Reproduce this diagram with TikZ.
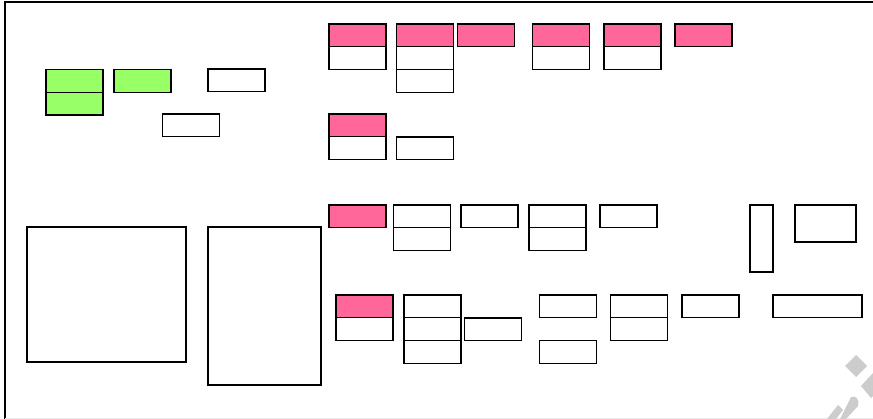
\documentclass[tikz,border=0pt]{standalone}
\usetikzlibrary{positioning}
\definecolor{pinkc}{HTML}{FF6699}
\definecolor{greenc}{HTML}{99FF66}
\definecolor{wmark}{HTML}{CCCCCC}
\tikzset{
  every picture/.style={line width=1.3pt},
  cell/.style={draw,rectangle,minimum width=57pt,minimum height=22.7pt,inner sep=0,outer sep=0},
  pk/.style={cell,fill=pinkc},
  gr/.style={cell,fill=greenc},
  big/.style={draw,rectangle,inner sep=0,outer sep=0},
}
\begin{document}
\begin{tikzpicture}[x=1pt,y=-1pt]
\useasboundingbox (0,0) rectangle (873,419);
% frame
\draw (5,419) -- (5,2) -- (873,2);
\draw[line width=0.8pt,black!8] (5,418) -- (873,418);
% green group
\node[gr] (g1) at (74.5,81) {};
\node[gr,below=0pt of g1] (g1b) {};
\node[gr] (g2) at (142.5,81) {};
\node[cell] (w1) at (236.5,80.5) {};
\node[cell] (w2) at (191,125.5) {};
% first row
\node[pk] (p1) at (357.5,35.5) {};
\node[cell,below=0pt of p1] (p1a) {};
\node[pk] (p2) at (425,35.5) {};
\node[cell,below=0pt of p2] (p2a) {};
\node[cell,below=0pt of p2a] (p2b) {};
\node[pk] (p3) at (486,35.5) {};
\node[pk] (p4) at (561,35.5) {};
\node[cell,below=0pt of p4] (p4a) {};
\node[pk] (p5) at (632.5,35.5) {};
\node[cell,below=0pt of p5] (p5a) {};
\node[pk] (p6) at (703.5,35.5) {};
% second row
\node[pk] (p7) at (357.5,125.5) {};
\node[cell,below=0pt of p7] (p7a) {};
\node[cell] (w3) at (425,148.5) {};
% third row
\node[pk] (p8) at (357.5,216.5) {};
\node[cell] (r3a) at (422,216.5) {};
\node[cell,below=0pt of r3a] (r3b) {};
\node[cell] (r3c) at (489.5,216.5) {};
\node[cell] (r3d) at (557.5,216.5) {};
\node[cell,below=0pt of r3d] (r3e) {};
\node[cell] (r3f) at (628.5,216.5) {};
\node[big,minimum width=23pt,minimum height=67pt] (tall) at (761.5,238.5) {};
\node[big,minimum width=61pt,minimum height=37pt] (r3g) at (825.5,223.5) {};
% fourth row
\node[pk] (p9) at (364.5,306.5) {};
\node[cell,below=0pt of p9] (p9a) {};
\node[cell] (r4a) at (432.5,306.5) {};
\node[cell,below=0pt of r4a] (r4b) {};
\node[cell,below=0pt of r4b] (r4c) {};
\node[cell] (r4d) at (493,329.5) {};
\node[cell] (r4e) at (568,306.5) {};
\node[cell] (r4f) at (568,352) {};
\node[cell] (r4g) at (639,306.5) {};
\node[cell,below=0pt of r4g] (r4h) {};
\node[cell] (r4i) at (710.5,306.5) {};
\node[big,minimum width=89pt,minimum height=22.7pt] (wide) at (817.5,306.5) {};
% large panels
\node[big,minimum width=159pt,minimum height=135pt] (b1) at (106.5,294.5) {};
\node[big,minimum width=113pt,minimum height=158pt] (b2) at (264.5,306) {};
% watermark fragment
\fill[wmark] (856,355) -- (867,366) -- (856,377) -- (845,366) -- cycle;
\fill[wmark] (861,386) -- (873,373) -- (873,396) -- (871,398) -- cycle;
\fill[wmark] (840,419) -- (851,397) .. controls (856,395) and (860,400) .. (858,406) -- (846,419) -- cycle;
\fill[wmark] (827,419) -- (838,405) -- (843,410) -- (836,419) -- cycle;
\end{tikzpicture}
\end{document}
